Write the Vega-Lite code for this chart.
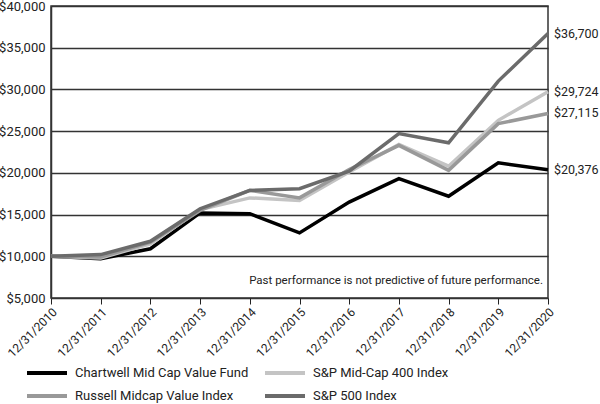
{
  "$schema": "https://vega.github.io/schema/vega-lite/v6.json",
  "autosize": {"type": "none"},
  "width": 497,
  "height": 292,
  "padding": {"left": 51, "top": 6, "right": 52, "bottom": 106},
  "config": {
    "font": "Roboto",
    "view": {"stroke": "#333", "strokeWidth": 1.5},
    "axis": {"labelFont": "Roboto", "labelColor": "#222", "titleFont": "Roboto"},
    "legend": {"labelFont": "Roboto"}
  },
  "data": {
    "values": [
      {"date": "12/31/2010", "series": "Chartwell Mid Cap Value Fund", "value": 10000},
      {"date": "12/31/2011", "series": "Chartwell Mid Cap Value Fund", "value": 9700},
      {"date": "12/31/2012", "series": "Chartwell Mid Cap Value Fund", "value": 10900},
      {"date": "12/31/2013", "series": "Chartwell Mid Cap Value Fund", "value": 15200},
      {"date": "12/31/2014", "series": "Chartwell Mid Cap Value Fund", "value": 15100},
      {"date": "12/31/2015", "series": "Chartwell Mid Cap Value Fund", "value": 12800},
      {"date": "12/31/2016", "series": "Chartwell Mid Cap Value Fund", "value": 16500},
      {"date": "12/31/2017", "series": "Chartwell Mid Cap Value Fund", "value": 19300},
      {"date": "12/31/2018", "series": "Chartwell Mid Cap Value Fund", "value": 17200},
      {"date": "12/31/2019", "series": "Chartwell Mid Cap Value Fund", "value": 21200},
      {"date": "12/31/2020", "series": "Chartwell Mid Cap Value Fund", "value": 20376},
      {"date": "12/31/2010", "series": "S&P Mid-Cap 400 Index", "value": 10000},
      {"date": "12/31/2011", "series": "S&P Mid-Cap 400 Index", "value": 9800},
      {"date": "12/31/2012", "series": "S&P Mid-Cap 400 Index", "value": 11500},
      {"date": "12/31/2013", "series": "S&P Mid-Cap 400 Index", "value": 15600},
      {"date": "12/31/2014", "series": "S&P Mid-Cap 400 Index", "value": 17000},
      {"date": "12/31/2015", "series": "S&P Mid-Cap 400 Index", "value": 16700},
      {"date": "12/31/2016", "series": "S&P Mid-Cap 400 Index", "value": 20100},
      {"date": "12/31/2017", "series": "S&P Mid-Cap 400 Index", "value": 23400},
      {"date": "12/31/2018", "series": "S&P Mid-Cap 400 Index", "value": 20800},
      {"date": "12/31/2019", "series": "S&P Mid-Cap 400 Index", "value": 26300},
      {"date": "12/31/2020", "series": "S&P Mid-Cap 400 Index", "value": 29724},
      {"date": "12/31/2010", "series": "Russell Midcap Value Index", "value": 10000},
      {"date": "12/31/2011", "series": "Russell Midcap Value Index", "value": 9900},
      {"date": "12/31/2012", "series": "Russell Midcap Value Index", "value": 11700},
      {"date": "12/31/2013", "series": "Russell Midcap Value Index", "value": 15500},
      {"date": "12/31/2014", "series": "Russell Midcap Value Index", "value": 17900},
      {"date": "12/31/2015", "series": "Russell Midcap Value Index", "value": 17000},
      {"date": "12/31/2016", "series": "Russell Midcap Value Index", "value": 20400},
      {"date": "12/31/2017", "series": "Russell Midcap Value Index", "value": 23300},
      {"date": "12/31/2018", "series": "Russell Midcap Value Index", "value": 20300},
      {"date": "12/31/2019", "series": "Russell Midcap Value Index", "value": 25900},
      {"date": "12/31/2020", "series": "Russell Midcap Value Index", "value": 27115},
      {"date": "12/31/2010", "series": "S&P 500 Index", "value": 10000},
      {"date": "12/31/2011", "series": "S&P 500 Index", "value": 10200},
      {"date": "12/31/2012", "series": "S&P 500 Index", "value": 11800},
      {"date": "12/31/2013", "series": "S&P 500 Index", "value": 15700},
      {"date": "12/31/2014", "series": "S&P 500 Index", "value": 17900},
      {"date": "12/31/2015", "series": "S&P 500 Index", "value": 18100},
      {"date": "12/31/2016", "series": "S&P 500 Index", "value": 20200},
      {"date": "12/31/2017", "series": "S&P 500 Index", "value": 24700},
      {"date": "12/31/2018", "series": "S&P 500 Index", "value": 23600},
      {"date": "12/31/2019", "series": "S&P 500 Index", "value": 31000},
      {"date": "12/31/2020", "series": "S&P 500 Index", "value": 36700}
    ]
  },
  "encoding": {
    "x": {
      "field": "date", "type": "ordinal",
      "scale": {"type": "point", "padding": 0},
      "axis": {
        "title": null, "labelAngle": -45, "labelFontSize": 12,
        "domain": false, "ticks": true, "tickColor": "#222", "tickSize": 6,
        "labelPadding": 2, "grid": false
      }
    },
    "y": {
      "field": "value", "type": "quantitative",
      "scale": {"domain": [5000, 40000], "nice": false, "zero": false},
      "axis": {
        "title": null, "values": [5000, 10000, 15000, 20000, 25000, 30000, 35000, 40000],
        "format": "$,.0f", "labelFontSize": 13, "ticks": false, "labelPadding": 6,
        "domain": true, "domainColor": "#333", "domainWidth": 1.5,
        "grid": true, "gridColor": "#333", "gridWidth": 1.5, "gridOpacity": 1
      }
    }
  },
  "layer": [
    {
      "mark": {"type": "line", "strokeWidth": 3.5, "clip": false},
      "encoding": {
        "color": {
          "field": "series", "type": "nominal",
          "scale": {
            "domain": ["Chartwell Mid Cap Value Fund", "Russell Midcap Value Index", "S&P Mid-Cap 400 Index", "S&P 500 Index"],
            "range": ["#000000", "#999999", "#c4c4c4", "#6b6b6b"]
          },
          "legend": {
            "title": null, "orient": "none", "legendX": -16, "legendY": 355,
            "columns": 2, "symbolType": "M-2,0H2", "symbolSize": 400,
            "symbolStrokeWidth": 4, "labelFontSize": 13, "labelColor": "#222",
            "columnPadding": 8, "rowPadding": 3, "labelOffset": 16,
            "labelLimit": 400, "padding": 0
          }
        },
        "order": {"field": "series", "sort": "descending"}
      }
    },
    {
      "transform": [{"filter": "datum.date === '12/31/2020'"}],
      "mark": {"type": "text", "align": "left", "dx": 6, "fontSize": 12.5, "color": "#222"},
      "encoding": {
        "text": {"field": "value", "type": "quantitative", "format": "$,.0f"}
      }
    },
    {
      "data": {"values": [{"date": "12/31/2020", "value": 7000, "note": "Past performance is not predictive of future performance."}]},
      "mark": {"type": "text", "align": "right", "dx": -5, "fontSize": 11.5, "color": "#222"},
      "encoding": {"text": {"field": "note"}}
    }
  ]
}
